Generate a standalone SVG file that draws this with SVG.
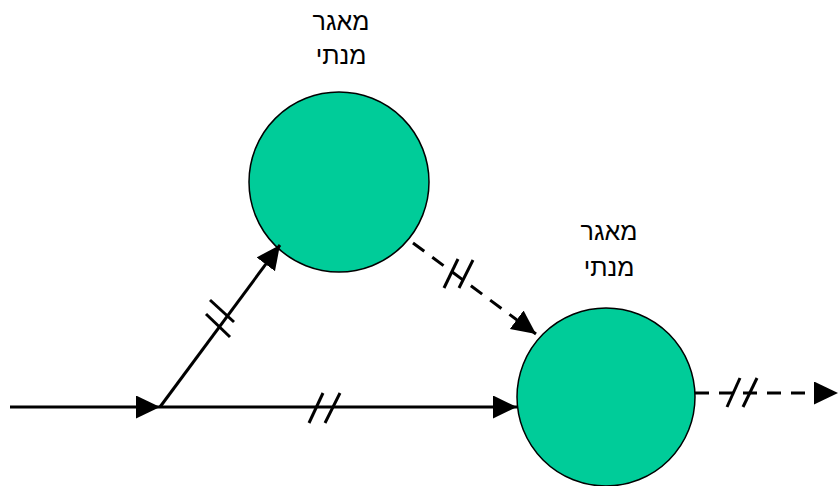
<svg xmlns="http://www.w3.org/2000/svg" width="840" height="486" viewBox="0 0 840 486">
<defs>
<style>
.node{fill:#00CC99;stroke:#000;stroke-width:1.5}
.lbl{font-family:"Liberation Sans","DejaVu Sans",Arial,sans-serif;font-size:25px;fill:#000;text-anchor:middle}
.ln{stroke:#000;stroke-width:3;fill:none}
.dash{stroke-dasharray:14 10}
.hash{stroke:#000;stroke-width:3}
</style>
<marker id="ah" markerUnits="userSpaceOnUse" markerWidth="26" markerHeight="24" refX="24" refY="11.5" orient="auto">
<path d="M0,0 L24,11.5 L0,23 Z" fill="#000"/>
</marker>
</defs>
<rect width="840" height="486" fill="#fff"/>
<g id="node1">
<circle class="node" cx="339" cy="182" r="90"/>
<text class="lbl" x="341" y="30">מאגר</text>
<text class="lbl" x="341" y="64">מנתי</text>
</g>
<g id="node2">
<circle class="node" cx="606" cy="397" r="89"/>
<text class="lbl" x="609" y="240">מאגר</text>
<text class="lbl" x="609" y="276">מנתי</text>
</g>
<g id="connectors">
<line class="ln" x1="10" y1="407" x2="160" y2="407" marker-end="url(#ah)"/>
<line class="ln" x1="160" y1="407" x2="517" y2="407" marker-end="url(#ah)"/>
<line class="ln" x1="160" y1="407" x2="280" y2="245" marker-end="url(#ah)"/>
<line class="ln dash" x1="413" y1="243" x2="536" y2="334" marker-end="url(#ah)"/>
<line class="ln dash" x1="695" y1="393" x2="838" y2="393" marker-end="url(#ah)"/>
<line class="hash" x1="210" y1="300" x2="234" y2="322"/>
<line class="hash" x1="206" y1="314" x2="230" y2="337"/>
<line class="hash" x1="458" y1="259" x2="444" y2="288"/>
<line class="hash" x1="473" y1="260" x2="459" y2="288"/>
<line class="hash" x1="323" y1="393" x2="309" y2="423"/>
<line class="hash" x1="340" y1="393" x2="325" y2="423"/>
<line class="hash" x1="740" y1="378" x2="727" y2="407"/>
<line class="hash" x1="757" y1="378" x2="743" y2="407"/>
</g>
</svg>
